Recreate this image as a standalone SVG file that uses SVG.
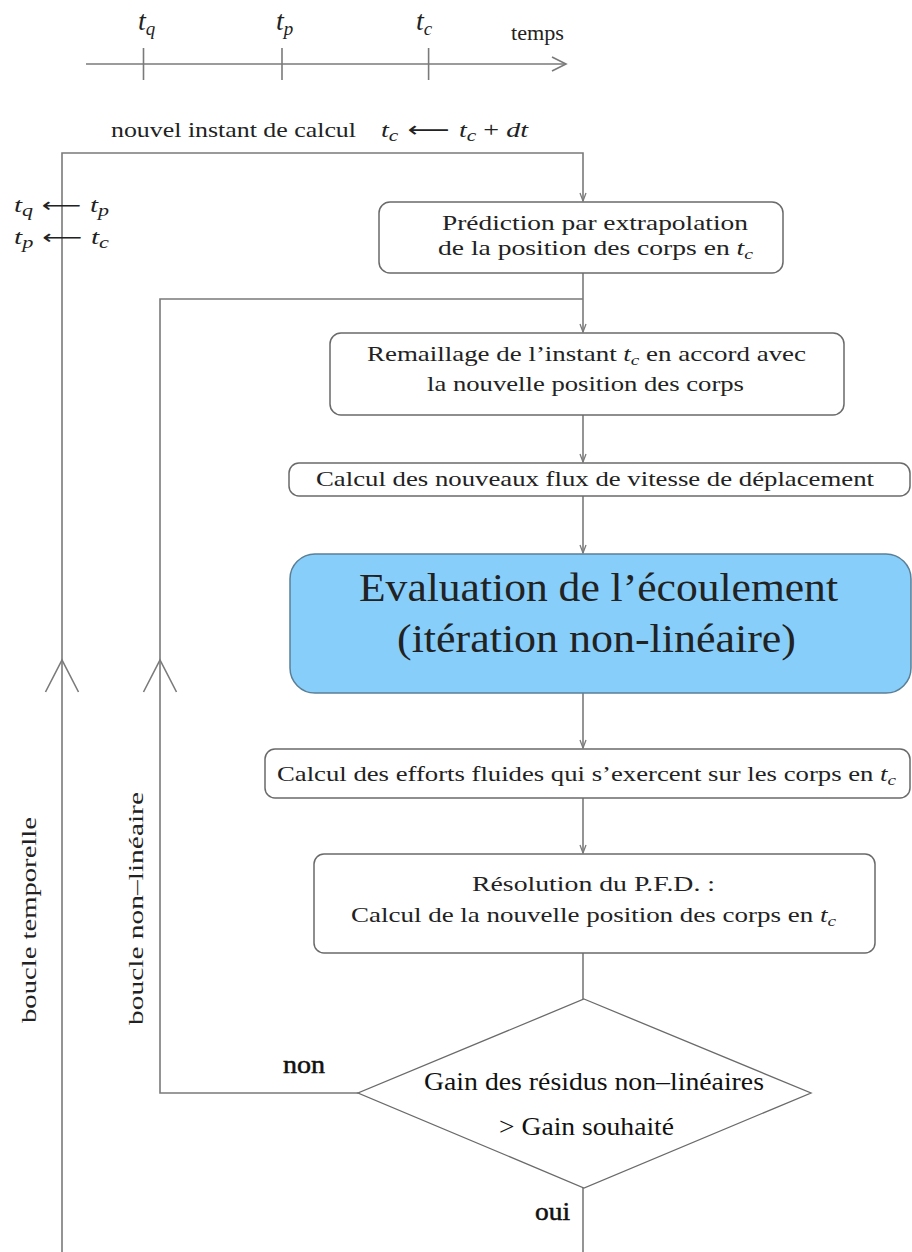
<svg xmlns="http://www.w3.org/2000/svg" width="912" height="1252" viewBox="0 0 912 1252">
<defs>
<style>
.ln{fill:none;stroke:#7a7a7a;stroke-width:1.6}
.bx{fill:#fff;stroke:#6a6a6a;stroke-width:1.5}
.blue{fill:#87cefa;stroke:#5a7f96;stroke-width:1.5}
.t{font-family:"Liberation Serif",serif;font-size:21px;fill:#222}
.tm{font-family:"Liberation Serif",serif;font-size:28px;fill:#222;font-style:italic}
.it{font-style:italic}
.big{font-family:"Liberation Serif",serif;font-size:40px;fill:#222}
.ts{font-family:"Liberation Serif",serif;font-size:25px;fill:#111}
.ar{font-family:"DejaVu Sans",sans-serif;font-style:normal}
</style>
<marker id="ah" markerWidth="12" markerHeight="10" refX="0" refY="0" viewBox="-9 -5 10 10" orient="auto" markerUnits="userSpaceOnUse">
<path d="M-8,-3 L0,0 L-8,3" fill="none" stroke="#7a7a7a" stroke-width="1.3"/>
</marker>
</defs>

<g id="timeline">
<line class="ln" x1="86" y1="64" x2="566" y2="64"/>
<path class="ln" d="M552,57 L566,64 L552,71"/>
<line class="ln" x1="143.5" y1="48" x2="143.5" y2="80"/>
<line class="ln" x1="282" y1="48" x2="282" y2="80"/>
<line class="ln" x1="428.6" y1="48" x2="428.6" y2="80"/>
<text class="tm" x="138" y="30">t<tspan font-size="19" dy="5">q</tspan></text>
<text class="tm" x="276" y="30">t<tspan font-size="19" dy="5">p</tspan></text>
<text class="tm" x="416" y="30">t<tspan font-size="19" dy="5">c</tspan></text>
<text class="t" x="511" y="40" font-size="17" textLength="53" lengthAdjust="spacingAndGlyphs">temps</text>
</g>

<g id="connectors">
<path class="ln" d="M62,1252 L62,153 L583,153 L583,201" marker-end="url(#ah)"/>
<path class="ln" d="M583,273 L583,332" marker-end="url(#ah)"/>
<path class="ln" d="M358,1093 L160,1093 L160,299 L583,299"/>
<path class="ln" d="M583,415 L583,462" marker-end="url(#ah)"/>
<path class="ln" d="M583,496 L583,553" marker-end="url(#ah)"/>
<path class="ln" d="M583,693 L583,748" marker-end="url(#ah)"/>
<path class="ln" d="M583,798 L583,853" marker-end="url(#ah)"/>
<path class="ln" d="M583,953 L583,999"/>
<path class="ln" d="M583,1188 L583,1252"/>
<path class="ln" d="M45.5,692 L62,660 L78.5,692"/>
<path class="ln" d="M143.5,692 L160,660 L176.5,692"/>
</g>

<g id="labels">
<text class="t" x="111" y="137" textLength="245" lengthAdjust="spacingAndGlyphs">nouvel instant de calcul</text>
<text class="t" x="381" y="137" font-size="24" textLength="147" lengthAdjust="spacingAndGlyphs"><tspan class="it">t</tspan><tspan class="it" font-size="16" dy="4">c</tspan><tspan class="ar" dy="-4" font-size="22"> ⟵ </tspan><tspan class="it">t</tspan><tspan class="it" font-size="16" dy="4">c</tspan><tspan dy="-4"> + </tspan><tspan class="it">dt</tspan></text>
<text class="t" x="14" y="212" font-size="24" textLength="95" lengthAdjust="spacingAndGlyphs"><tspan class="it">t</tspan><tspan class="it" font-size="16" dy="4">q</tspan><tspan class="ar" dy="-4" font-size="20"> ⟵ </tspan><tspan class="it">t</tspan><tspan class="it" font-size="16" dy="4">p</tspan></text>
<text class="t" x="14" y="244" font-size="24" textLength="95" lengthAdjust="spacingAndGlyphs"><tspan class="it">t</tspan><tspan class="it" font-size="16" dy="4">p</tspan><tspan class="ar" dy="-4" font-size="20"> ⟵ </tspan><tspan class="it">t</tspan><tspan class="it" font-size="16" dy="4">c</tspan></text>
<text class="t" font-size="24" transform="translate(36,1023) rotate(-90)" textLength="206" lengthAdjust="spacingAndGlyphs">boucle temporelle</text>
<text class="t" font-size="24" transform="translate(143,1025) rotate(-90)" textLength="233" lengthAdjust="spacingAndGlyphs">boucle non–linéaire</text>
<text class="ts" x="283" y="1073" font-size="23" stroke="#111" stroke-width="0.5" textLength="42" lengthAdjust="spacingAndGlyphs">non</text>
<text class="ts" x="535" y="1220" font-size="23" stroke="#111" stroke-width="0.5" textLength="35" lengthAdjust="spacingAndGlyphs">oui</text>
</g>

<g id="n-prediction">
<rect class="bx" x="379" y="202" width="404" height="71" rx="11"/>
<text class="t" x="442" y="230" textLength="306" lengthAdjust="spacingAndGlyphs">Prédiction par extrapolation</text>
<text class="t" x="438" y="255" textLength="315" lengthAdjust="spacingAndGlyphs">de la position des corps en <tspan class="it">t</tspan><tspan class="it" font-size="15" dy="4">c</tspan></text>
</g>

<g id="n-remaillage">
<rect class="bx" x="330" y="333" width="514" height="82" rx="11"/>
<text class="t" x="367" y="361" textLength="439" lengthAdjust="spacingAndGlyphs">Remaillage de l’instant <tspan class="it">t</tspan><tspan class="it" font-size="15" dy="4">c</tspan><tspan dy="-4"> en accord avec</tspan></text>
<text class="t" x="427" y="391" textLength="317" lengthAdjust="spacingAndGlyphs">la nouvelle position des corps</text>
</g>

<g id="n-flux">
<rect class="bx" x="289" y="463" width="621" height="33" rx="10"/>
<text class="t" x="316" y="486" textLength="558" lengthAdjust="spacingAndGlyphs">Calcul des nouveaux flux de vitesse de déplacement</text>
</g>

<g id="n-evaluation">
<rect class="blue" x="290" y="554" width="621" height="139" rx="25"/>
<text class="big" x="359" y="601" textLength="479" lengthAdjust="spacingAndGlyphs">Evaluation de l’écoulement</text>
<text class="big" x="397" y="652" textLength="399" lengthAdjust="spacingAndGlyphs">(itération non-linéaire)</text>
</g>

<g id="n-efforts">
<rect class="bx" x="265" y="749" width="645" height="49" rx="10"/>
<text class="t" x="277" y="781" textLength="619" lengthAdjust="spacingAndGlyphs">Calcul des efforts fluides qui s’exercent sur les corps en <tspan class="it">t</tspan><tspan class="it" font-size="15" dy="4">c</tspan></text>
</g>

<g id="n-resolution">
<rect class="bx" x="314" y="854" width="561" height="99" rx="10"/>
<text class="t" x="472" y="891" textLength="243" lengthAdjust="spacingAndGlyphs">Résolution du P.F.D. :</text>
<text class="t" x="351" y="922" textLength="485" lengthAdjust="spacingAndGlyphs">Calcul de la nouvelle position des corps en <tspan class="it">t</tspan><tspan class="it" font-size="15" dy="4">c</tspan></text>
</g>

<g id="n-decision">
<polygon class="bx" points="584,999 811,1093 584,1188 358,1093" style="stroke-width:1.3"/>
<text class="ts" x="424" y="1090" textLength="340" lengthAdjust="spacingAndGlyphs">Gain des résidus non–linéaires</text>
<text class="ts" x="499" y="1135" textLength="175" lengthAdjust="spacingAndGlyphs">&gt; Gain souhaité</text>
</g>
</svg>
